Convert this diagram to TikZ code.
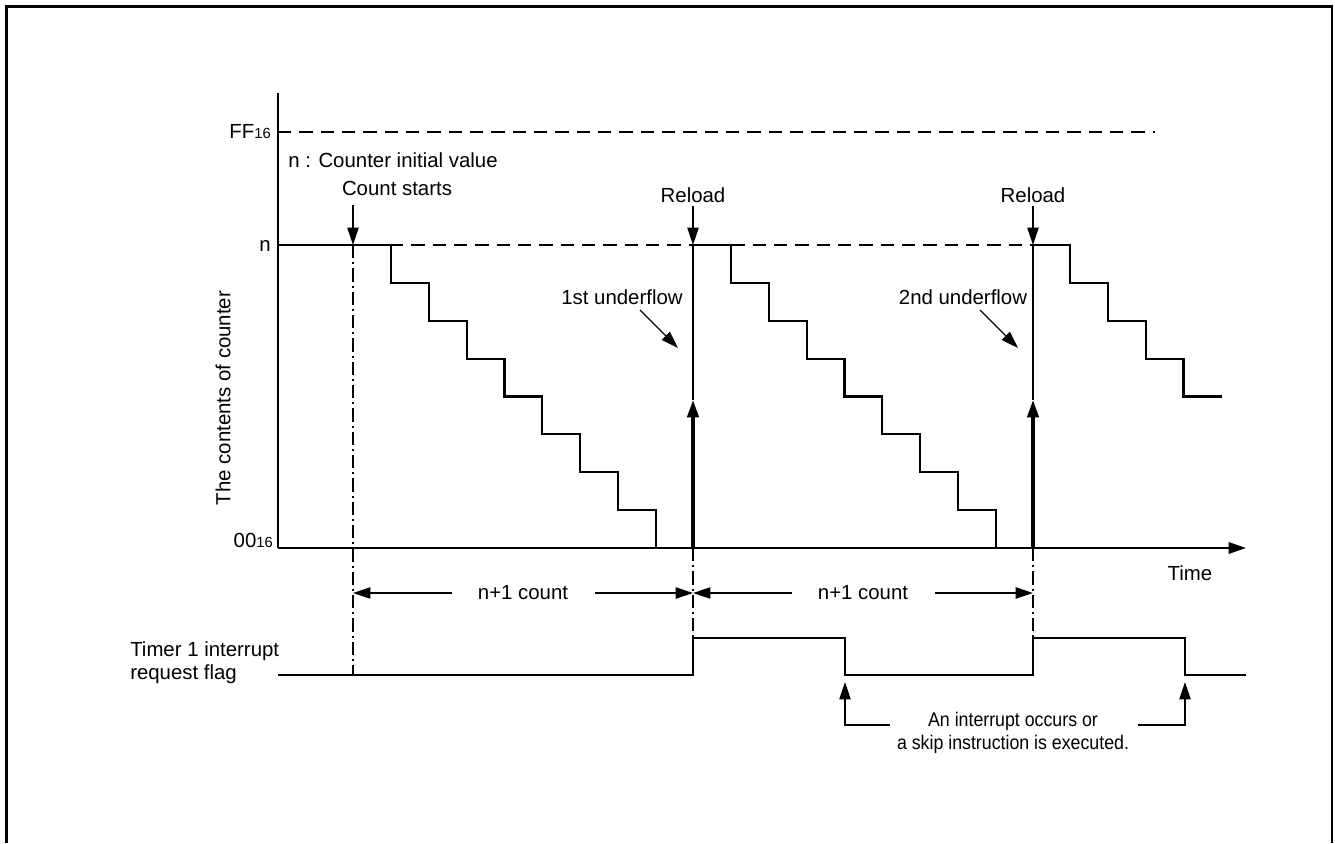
\documentclass[tikz,border=0pt]{standalone}
\usepackage{fontspec}
\setmainfont{Liberation Sans}
\usetikzlibrary{arrows.meta}
\newcommand{\sixteen}{{\fontsize{11}{11}\selectfont 16}}
\begin{document}
\begin{tikzpicture}[x=0.75pt,y=-0.75pt,
  lbl/.style={inner sep=0pt,font=\fontsize{15.3}{17}\selectfont},
  wave/.style={line width=1.6pt,line join=miter},
  thinl/.style={line width=1pt},
  fatl/.style={line width=2.5pt},
  dashl/.style={line width=0.9pt,dash pattern=on 10pt off 6pt},
  dashdot/.style={line width=0.9pt,dash pattern=on 10pt off 3pt on 1.5pt off 3pt},
  arr/.style={-{Triangle[length=13pt,width=8.5pt]}},
  frame/.style={line width=1.8pt}]
\useasboundingbox (0,0) rectangle (1335,843);
% frame
\draw[frame] (6.5,843) -- (6.5,6.5) -- (1332,6.5) -- (1332,843);

% axes
\coordinate (ytop) at (278,93);
\coordinate (orig) at (278,548);
\coordinate (xend) at (1246,548);
\draw[wave] (ytop) -- (orig);
\draw[wave,arr] (orig) -- (xend);

% dashed reference levels
\draw[dashl] (278,132) -- (1155,132);
\draw[dashl] (390,245) -- (1033,245);

% labels on axis
\node[lbl,anchor=east] (ff) at (271,132) {FF\sixteen};
\node[lbl,anchor=east] (nl) at (271,246) {n};
\node[lbl,anchor=east] (zz) at (273,540) {00\sixteen};
\node[lbl,rotate=90] (ylab) at (223,398) {The contents of counter};
\node[lbl] (time) at (1190,573) {Time};
\node[lbl,anchor=west] (init) at (288,160) {n : Counter initial value};

% staircase cycle 1
\draw[wave] (278,245) -- (391,245)
  foreach \i in {0,...,7} { -- ({391+37.85*\i},{245+37.875*\i}) -- ({391+37.85*\i},{245+37.875*(\i+1)}) }
  -- (693,548);
% staircase cycle 2
\draw[wave] (693,245) -- (731,245)
  foreach \i in {0,...,7} { -- ({731+37.85*\i},{245+37.875*\i}) -- ({731+37.85*\i},{245+37.875*(\i+1)}) }
  -- (1033,548);
% staircase cycle 3
\draw[wave] (1033,245) -- (1070,245)
  foreach \i in {0,...,3} { -- ({1070+37.85*\i},{245+37.875*\i}) -- ({1070+37.85*\i},{245+37.875*(\i+1)}) }
  -- (1222,396.5);

% reload verticals
\coordinate (r1b) at (693,548);
\coordinate (r1m) at (693,400);
\coordinate (r1t) at (693,245);
\coordinate (r2b) at (1033,548);
\coordinate (r2m) at (1033,400);
\coordinate (r2t) at (1033,245);
\draw[fatl,arr] (r1b) -- (r1m);
\draw[thinl] (r1m) -- (r1t);
\draw[fatl,arr] (r2b) -- (r2m);
\draw[thinl] (r2m) -- (r2t);

% count starts / reload labels
\node[lbl] (cs) at (397,188) {Count starts};
\node[lbl] (rl1) at (693,195) {Reload};
\node[lbl] (rl2) at (1033,195) {Reload};
\coordinate (cst) at (353,245);
\draw[thinl,arr] (353,205) -- (cst);
\draw[thinl,arr] (rl1.south |- 0,206) -- (r1t);
\draw[thinl,arr] (rl2.south |- 0,206) -- (r2t);

% underflow labels
\node[lbl] (u1) at (622,297) {1st underflow};
\node[lbl] (u2) at (963,297) {2nd underflow};
\coordinate (u1t) at (678,348);
\coordinate (u2t) at (1018,348);
\draw[thinl,arr] (640,310) -- (u1t);
\draw[thinl,arr] (980,310) -- (u2t);

% dash-dot verticals
\draw[dashdot] (cst) -- (353,675);
\draw[dashdot] (r1b) -- (693,638);
\draw[dashdot] (r2b) -- (1033,638);

% n+1 count
\node[lbl] (c1) at (523,593) {n+1 count};
\node[lbl] (c2) at (863,593) {n+1 count};
\draw[thinl,arr] (452,593) -- (353,593);
\draw[thinl,arr] (595,593) -- (693,593);
\draw[thinl,arr] (792,593) -- (693,593);
\draw[thinl,arr] (935,593) -- (1033,593);

% flag
\node[lbl,anchor=west,align=left] (flag) at (130,663) {Timer 1 interrupt\\request flag};
\draw[wave] (278,675) -- (693,675) -- (693,638) -- (845,638) -- (845,675)
  -- (1033,675) -- (1033,638) -- (1185,638) -- (1185,675) -- (1246,675);

% interrupt note
\node[inner sep=0pt,align=center,font=\fontsize{14.8}{17.3}\selectfont] (note) at (1013,733)
  {\scalebox{0.9}[1]{An interrupt occurs or}\\\scalebox{0.9}[1]{a skip instruction is executed.}};
\coordinate (a1) at (845,682);
\coordinate (a2) at (1185,682);
\draw[thinl,arr] (890,725) -- (845,725) -- (a1);
\draw[thinl,arr] (1138,725) -- (1185,725) -- (a2);
\end{tikzpicture}
\end{document}
